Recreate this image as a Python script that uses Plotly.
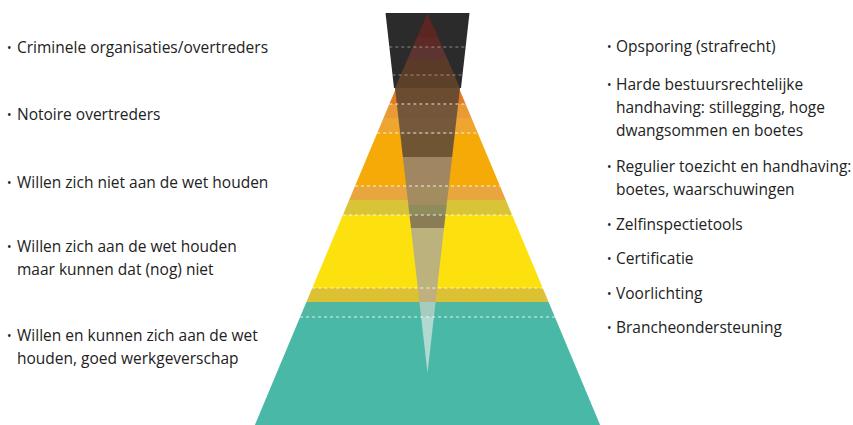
import plotly.graph_objects as go

# ---- data ----
left_labels = [
    ["Criminele organisaties/overtreders"],
    ["Notoire overtreders"],
    ["Willen zich niet aan de wet houden"],
    ["Willen zich aan de wet houden", "maar kunnen dat (nog) niet"],
    ["Willen en kunnen zich aan de wet", "houden, goed werkgeverschap"],
]
left_label_y = [47, 114, 182, 246, 335]

right_labels = [
    ["Opsporing (strafrecht)"],
    ["Harde bestuursrechtelijke", "handhaving: stillegging, hoge", "dwangsommen en boetes"],
    ["Regulier toezicht en handhaving:", "boetes, waarschuwingen"],
    ["Zelfinspectietools"],
    ["Certificatie"],
    ["Voorlichting"],
    ["Brancheondersteuning"],
]
right_label_y = [46, 84, 166, 224, 258, 293, 327]

# pyramid bands (levels from top to bottom)
band_edges = [88, 104, 118, 133, 186, 200, 215, 288, 302, 317, 425]
band_colors = ["#e27b22", "#ea9a35", "#eea630", "#f5aa08", "#e9a53e",
               "#d9c336", "#fde10e", "#dcc232", "#50b7a3", "#49b8a6"]

# dark top block
dark_top, dark_bottom = 13, 88
dark_color = "#2b2b2b"

# inverted "enforcement" wedge
wedge_edges = [13, 37, 47, 60, 75, 88, 105, 118, 134, 157, 186, 205, 215,
               228, 288, 302, 317, 373]
wedge_colors = ["#5b2522", "#5d2a26", "#5c3530", "#5a3b27", "#5d4029",
                "#6c4c31", "#74573a", "#76593b", "#6f5534", "#a08661",
                "#a28c60", "#8e8b5c", "#8a7c54", "#bcb27e", "#c0b07f",
                "#a6cbbf", "#b0d9d1"]

divider_levels = [47, 75, 104, 133, 186, 215, 288, 317]

# ---- geometry helpers ----
CX = 427.5
APEX = 13
SLOPE = 0.419          # half-width growth of pyramid per unit of depth
DARK_HALF_TOP, DARK_HALF_BOT = 42, 33.5
WEDGE_MID, WEDGE_HALF = 88, 32.5


def pyr_half(y):
    return SLOPE * (y - APEX)


def dark_half(y):
    t = (y - dark_top) / (dark_bottom - dark_top)
    return DARK_HALF_TOP + t * (DARK_HALF_BOT - DARK_HALF_TOP)


def wedge_half(y):
    if y <= WEDGE_MID:
        return WEDGE_HALF * (y - wedge_edges[0]) / (WEDGE_MID - wedge_edges[0])
    return WEDGE_HALF * (wedge_edges[-1] - y) / (wedge_edges[-1] - WEDGE_MID)


def slab(y0, y1, half_fn, color):
    ys = [y0, y1]
    if y0 < WEDGE_MID < y1 and half_fn is wedge_half:
        ys = [y0, WEDGE_MID, y1]
    xs_r = [CX + half_fn(y) for y in ys]
    xs_l = [CX - half_fn(y) for y in ys]
    x = xs_l + xs_r[::-1] + [xs_l[0]]
    y = ys + ys[::-1] + [ys[0]]
    return go.Scatter(x=x, y=y, mode="lines", fill="toself", fillcolor=color,
                      line=dict(width=0), hoverinfo="skip", showlegend=False)


fig = go.Figure()

prev = dark_bottom
for y1, c in zip(band_edges[1:], band_colors):
    fig.add_trace(slab(prev, y1, pyr_half, c))
    prev = y1
fig.add_trace(slab(dark_top + 60, dark_bottom, pyr_half, band_colors[0]))
fig.add_trace(slab(dark_top, dark_bottom, dark_half, dark_color))

for y0, y1, c in zip(wedge_edges[:-1], wedge_edges[1:], wedge_colors):
    fig.add_trace(slab(y0, y1, wedge_half, c))

for yl in divider_levels:
    h = dark_half(yl) if yl <= dark_bottom else pyr_half(yl)
    col = "rgba(255,255,255,0.45)" if yl <= dark_bottom else "rgba(255,255,255,0.85)"
    fig.add_trace(go.Scatter(x=[CX - h, CX + h], y=[yl, yl], mode="lines",
                             line=dict(color=col, width=1, dash="dot"),
                             hoverinfo="skip", showlegend=False))

FONT = dict(family="Open Sans", size=15.5, color="#222222")
LINE_H = 23


def add_labels(groups, ys, x_bullet, x_text):
    for lines, y in zip(groups, ys):
        fig.add_annotation(x=x_bullet, y=y, text="•", showarrow=False,
                           xanchor="left", yanchor="middle",
                           font=dict(FONT, size=12))
        for i, ln in enumerate(lines):
            fig.add_annotation(x=x_text, y=y + i * LINE_H, text=ln,
                               showarrow=False, xanchor="left",
                               yanchor="middle", font=FONT)


add_labels(left_labels, left_label_y, 5, 15)
add_labels(right_labels, right_label_y, 605, 614)

fig.update_layout(
    width=853, height=425,
    margin=dict(l=0, r=0, t=0, b=0),
    paper_bgcolor="white", plot_bgcolor="white",
    xaxis=dict(range=[0, 853], visible=False, fixedrange=True),
    yaxis=dict(range=[425, 0], visible=False, fixedrange=True),
)

fig.write_html("out.html", config={"displayModeBar": False},
               post_script="document.body.style.margin='0px';document.body.style.overflow='hidden';")
